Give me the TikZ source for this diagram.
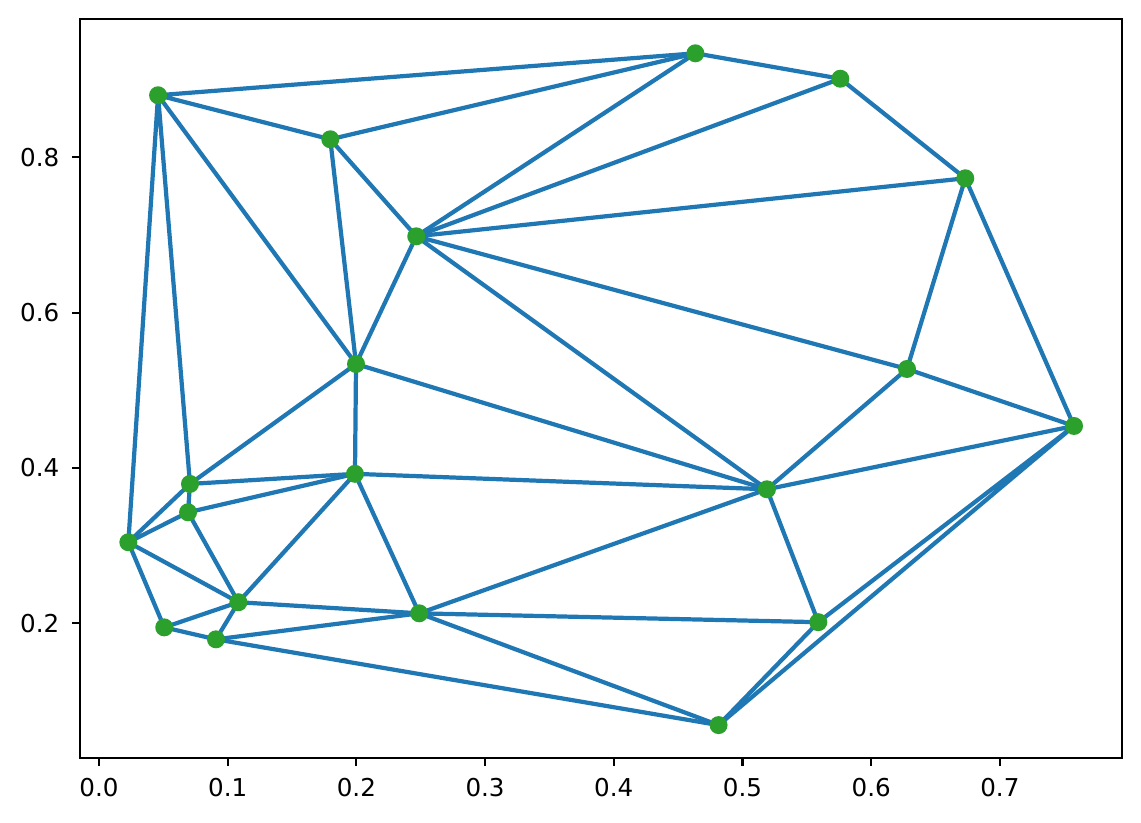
\documentclass[tikz,border=0pt]{standalone}
\usepackage{fontspec}
\setmainfont{DejaVu Sans}
\usepackage{tikz}
\usetikzlibrary{positioning, backgrounds}
\definecolor{edgeblue}{HTML}{1F77B4}
\definecolor{dotgreen}{HTML}{2CA02C}

\begin{document}
\begin{tikzpicture}[x=12.87cm, y=7.767cm,
  pt/.style={circle, fill=dotgreen, inner sep=0pt, minimum size=0.18cm},
  edge/.style={edgeblue, line width=1.2pt},
  frame/.style={black, line width=0.6pt},
  tick/.style={font=\fontsize{7}{8.4}\selectfont, inner sep=0pt}
]
\useasboundingbox (-0.07692,-0.05588) rectangle (0.80963,1.00245);
% axes box and ticks
\draw[frame] (-0.0148,0.0269) rectangle (0.7949,0.978);
\foreach \k in {0,...,7} {
  \draw[frame] (\k/10,0.0269) -- ++(0,-0.08cm);
  \node[tick, anchor=north] (xt\k) at ([yshift=-0.2cm]\k/10,0.0269) {0.\k};
}
\foreach \k in {2,4,6,8} {
  \draw[frame] (-0.0148,\k/10) -- ++(-0.08cm,0);
  \node[tick, anchor=east] (yt\k) at ([xshift=-0.2cm]-0.0148,\k/10) {0.\k};
}
% points
\node[pt] (A) at (0.0459,0.8798) {};
\node[pt] (B) at (0.1797,0.8231) {};
\node[pt] (C) at (0.4634,0.9338) {};
\node[pt] (D) at (0.5760,0.9011) {};
\node[pt] (E) at (0.6731,0.7729) {};
\node[pt] (F) at (0.2465,0.6982) {};
\node[pt] (G) at (0.1997,0.5338) {};
\node[pt] (H) at (0.6278,0.5274) {};
\node[pt] (I) at (0.7576,0.4540) {};
\node[pt] (J) at (0.0707,0.3794) {};
\node[pt] (K) at (0.1989,0.3924) {};
\node[pt] (L) at (0.5190,0.3725) {};
\node[pt] (M) at (0.0692,0.3429) {};
\node[pt] (N) at (0.0228,0.3043) {};
\node[pt] (O) at (0.1083,0.2271) {};
\node[pt] (P) at (0.2488,0.2128) {};
\node[pt] (Q) at (0.5589,0.2014) {};
\node[pt] (R) at (0.0507,0.1947) {};
\node[pt] (S) at (0.0909,0.1793) {};
\node[pt] (T) at (0.4814,0.0689) {};
% triangulation, under the points
\begin{scope}[on background layer]
\draw[edge] (A.center) -- (C.center) (A.center) -- (B.center) (A.center) -- (G.center)
            (A.center) -- (J.center) (A.center) -- (N.center);
\draw[edge] (B.center) -- (C.center) (B.center) -- (F.center) (B.center) -- (G.center);
\draw[edge] (C.center) -- (F.center) (C.center) -- (D.center);
\draw[edge] (D.center) -- (F.center) (D.center) -- (E.center);
\draw[edge] (E.center) -- (F.center) (E.center) -- (H.center) (E.center) -- (I.center);
\draw[edge] (F.center) -- (G.center) (F.center) -- (H.center) (F.center) -- (L.center);
\draw[edge] (G.center) -- (J.center) (G.center) -- (K.center) (G.center) -- (L.center);
\draw[edge] (H.center) -- (L.center) (H.center) -- (I.center);
\draw[edge] (I.center) -- (L.center) (I.center) -- (Q.center) (I.center) -- (T.center);
\draw[edge] (J.center) -- (K.center) (J.center) -- (N.center) (J.center) -- (M.center);
\draw[edge] (K.center) -- (L.center) (K.center) -- (M.center) (K.center) -- (O.center)
            (K.center) -- (P.center);
\draw[edge] (L.center) -- (P.center) (L.center) -- (Q.center);
\draw[edge] (M.center) -- (N.center) (M.center) -- (O.center);
\draw[edge] (N.center) -- (O.center) (N.center) -- (R.center);
\draw[edge] (O.center) -- (R.center) (O.center) -- (S.center) (O.center) -- (P.center);
\draw[edge] (P.center) -- (S.center) (P.center) -- (Q.center) (P.center) -- (T.center);
\draw[edge] (Q.center) -- (T.center) (S.center) -- (T.center) (R.center) -- (S.center);
\end{scope}
\end{tikzpicture}
\end{document}
